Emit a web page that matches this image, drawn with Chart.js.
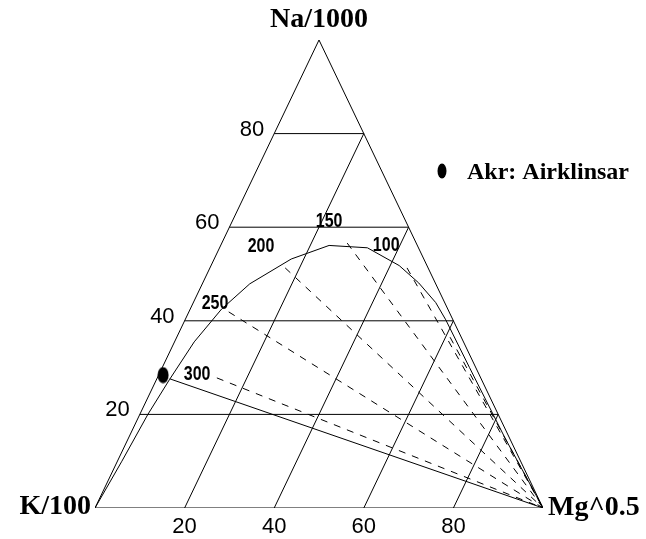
<!DOCTYPE html>
<html>
<head>
<meta charset="utf-8">
<script src="https://cdn.jsdelivr.net/npm/chart.js@4/dist/chart.umd.min.js"></script>
<style>
  html, body { margin: 0; padding: 0; background: #fff; }
  #wrap { width: 646px; height: 539px; }
</style>
</head>
<body>
<div id="wrap"><canvas id="myChart"></canvas></div>
<script>
// ternary data: Na/1000 (top), K/100 (left), Mg^0.5 (right), all in %
var gridLevels = [20, 40, 60, 80];
var tickLabels = ['20', '40', '60', '80'];
var vertexNames = ['Na/1000', 'K/100', 'Mg^0.5'];

// full equilibrium curve
var curveNa = [0, 10, 20, 27.4, 35.5, 42.5, 47.9, 53.2, 56.1, 55.6, 51.8, 48.1, 43.9, 40.2, 30, 15, 0];
var curveMg = [0, 1.0, 1.8, 2.9, 4.4, 7.0, 10.6, 17.2, 24.2, 33.0, 42.0, 48.2, 54.1, 58.2, 68.6, 84.0, 100];

// K-Mg isotherms (dashed, run to the Mg corner)
var isoTemps = ['300', '250', '200', '150', '100', ''];
var isoStartNa = [27.8, 41.9, 51.3, 56.6, 51.3, 36.5];
var isoStartMg = [13.3, 8.9, 16.8, 28.0, 44.0, 61.0];
var isoLabelNa = [28.6, 43.8, 55.8, 61.3, 56.0];
var isoLabelMg = [8.5, 4.9, 9.15, 21.6, 37.0];

// solid line from the sample to the Mg corner
var lineStartNa = 27.6, lineStartMg = 2.9;

// samples
var sampleNames = ['Akr: Airklinsar'];
var sampleNa = [28.4];
var sampleMg = [1.0];

function toXY(na, mg) {
  return { x: mg + na / 2, y: na };
}

// ellipse marker
var dot = document.createElement('canvas');
dot.width = 12; dot.height = 17;
var dctx = dot.getContext('2d');
dctx.fillStyle = '#000';
dctx.beginPath();
dctx.ellipse(6, 8.5, 5.5, 8, 0, 0, Math.PI * 2);
dctx.fill();

var datasets = [];

function lineSet(points, dash) {
  return {
    data: points,
    showLine: true,
    borderColor: '#000',
    borderWidth: 1,
    borderDash: dash || [],
    pointRadius: 0,
    pointHoverRadius: 0,
    tension: 0
  };
}

// triangle
datasets.push(lineSet([toXY(0, 0), toXY(100, 0), toXY(0, 100), toXY(0, 0)]));

// constant Na lines
gridLevels.forEach(function (v) {
  datasets.push(lineSet([toXY(v, 0), toXY(v, 100 - v)]));
});
// constant Mg lines
gridLevels.forEach(function (v) {
  datasets.push(lineSet([toXY(0, v), toXY(100 - v, v)]));
});

// equilibrium curve
datasets.push(lineSet(curveNa.map(function (na, i) { return toXY(na, curveMg[i]); })));

// solid line
datasets.push(lineSet([toXY(lineStartNa, lineStartMg), toXY(0, 100)]));

// dashed isotherms
isoTemps.forEach(function (t, i) {
  datasets.push(lineSet([toXY(isoStartNa[i], isoStartMg[i]), toXY(0, 100)], [7, 7]));
});

// sample points
datasets.push({
  label: sampleNames[0],
  data: sampleNa.map(function (na, i) { return toXY(na, sampleMg[i]); }),
  pointStyle: dot,
  pointRadius: 6,
  showLine: false
});

var textPlugin = {
  id: 'ternaryText',
  afterDatasetsDraw: function (chart) {
    var ctx = chart.ctx;
    var xs = chart.scales.x, ys = chart.scales.y;
    function px(na, mg) {
      var p = toXY(na, mg);
      return { x: xs.getPixelForValue(p.x), y: ys.getPixelForValue(p.y) };
    }
    ctx.save();
    ctx.fillStyle = '#000';

    // left tick labels (Na)
    ctx.font = '22px "Liberation Sans", Arial, sans-serif';
    ctx.textAlign = 'right';
    ctx.textBaseline = 'middle';
    gridLevels.forEach(function (v, i) {
      var p = px(v, 0);
      ctx.fillText(tickLabels[i], p.x - 10, p.y - 4);
    });
    // bottom tick labels (Mg)
    ctx.textAlign = 'center';
    gridLevels.forEach(function (v, i) {
      var p = px(0, v);
      ctx.fillText(tickLabels[i], p.x, p.y + 19);
    });

    // vertex names
    ctx.font = 'bold 28px "Liberation Serif", "Times New Roman", serif';
    var top = px(100, 0), k = px(0, 0), mg = px(0, 100);
    ctx.textAlign = 'center';
    ctx.fillText(vertexNames[0], top.x, top.y - 20);
    ctx.textAlign = 'right';
    ctx.fillText(vertexNames[1], k.x - 4, k.y - 1);
    ctx.textAlign = 'left';
    ctx.fillText(vertexNames[2], mg.x + 5, mg.y);

    // isotherm labels
    ctx.font = 'bold 20px "Liberation Sans", Arial, sans-serif';
    ctx.textAlign = 'center';
    isoLabelNa.forEach(function (na, i) {
      var p = px(na, isoLabelMg[i]);
      ctx.save();
      ctx.translate(p.x, p.y);
      ctx.scale(0.8, 1);
      ctx.fillText(isoTemps[i], 0, 0);
      ctx.restore();
    });

    // legend
    var lx = chart.chartArea.right - 101, ly = chart.chartArea.top + 131;
    ctx.beginPath();
    ctx.ellipse(lx, ly, 4.5, 7.5, 0, 0, Math.PI * 2);
    ctx.fill();
    ctx.font = 'bold 24px "Liberation Serif", "Times New Roman", serif';
    ctx.textAlign = 'left';
    ctx.fillText(sampleNames[0], lx + 25, ly + 2);
    ctx.restore();
  }
};

new Chart(document.getElementById('myChart'), {
  type: 'scatter',
  data: { datasets: datasets },
  options: {
    responsive: true,
    maintainAspectRatio: false,
    animation: false,
    layout: { padding: { left: 95, right: 103, top: 40, bottom: 31 } },
    plugins: { legend: { display: false }, tooltip: { enabled: false } },
    scales: {
      x: { type: 'linear', min: 0, max: 100, display: false },
      y: { type: 'linear', min: 0, max: 100, display: false }
    }
  },
  plugins: [textPlugin]
});
</script>
</body>
</html>
